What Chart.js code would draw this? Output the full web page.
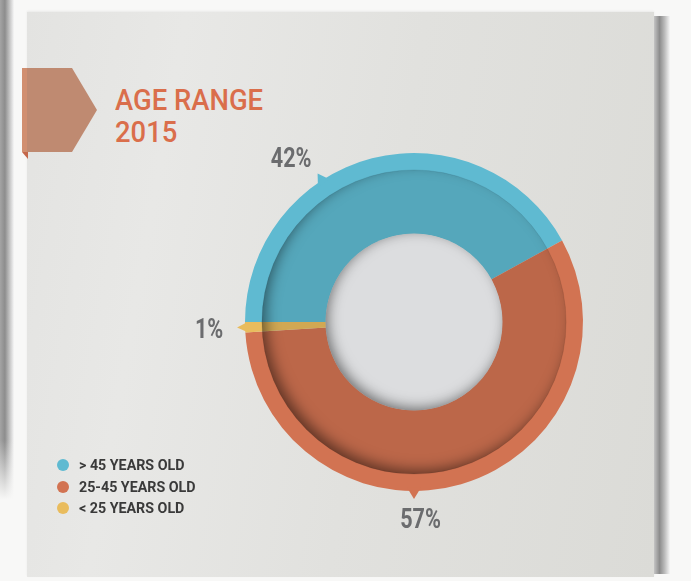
<!DOCTYPE html>
<html>
<head>
<meta charset="utf-8">
<script src="https://cdn.jsdelivr.net/npm/chart.js@4.4.1/dist/chart.umd.min.js"></script>
<style>
html,body{margin:0;padding:0;width:691px;height:581px;overflow:hidden;background:#f8f8f7;}
#strip{position:absolute;left:0;top:0;width:14px;height:500px;background:linear-gradient(to right,#a4a4a4 0,#8d8d8d 35%,#c6c6c6 70%,#f6f6f6 100%);}
#strip:after{content:"";position:absolute;left:0;bottom:0;width:14px;height:60px;background:linear-gradient(to bottom,rgba(248,248,247,0),#f8f8f7);}
#card{position:absolute;left:27px;top:12px;width:627px;height:565px;background:linear-gradient(100deg,#e3e3e1 0%,#e8e8e6 22%,#e1e1de 55%,#dbdbd7 100%);box-shadow:0 -1px 2px rgba(0,0,0,0.06);}
#edge{position:absolute;left:654px;top:16px;width:16px;height:558px;background:linear-gradient(to right,#c4c4c4,#8c8c8c 35%,#b9b9b9 65%,#f6f6f6);}
#ribbon{position:absolute;left:22px;top:68px;}
#c{position:absolute;left:0;top:0;}
#title{position:absolute;left:115px;top:84px;font-family:Roboto,"DejaVu Sans",sans-serif;font-weight:500;font-size:29.5px;line-height:32px;color:#da6e4b;transform:scaleX(0.93);transform-origin:0 0;white-space:nowrap;}
.lg{position:absolute;left:57px;height:20px;line-height:20px;white-space:nowrap;}
.lg i{position:absolute;left:0;top:4px;width:12px;height:12px;border-radius:50%;}
.lg span{position:absolute;left:22px;top:0;font-family:Roboto,"DejaVu Sans",sans-serif;font-weight:700;font-size:15px;color:#3a3a3a;transform:scaleX(0.95);transform-origin:0 0;}
</style>
</head>
<body>
<div id="strip"></div>
<div id="card"></div>
<div id="edge"></div>
<svg id="ribbon" width="80" height="94" viewBox="0 0 80 94">
  <polygon points="0,0 50,0 75,42 50,84 0,84" fill="#bf8a71"/>
  <rect x="0" y="0" width="5" height="84" fill="#d18f70"/>
  <polygon points="0,84 6,84 6,91" fill="#c4674a"/>
</svg>
<div id="title">AGE RANGE<br>2015</div>
<canvas id="c" width="691" height="581"></canvas>
<div id="legend"></div>
<script>
// ---- data ----
const categories = ['> 45 YEARS OLD', '25-45 YEARS OLD', '< 25 YEARS OLD'];
const shares = [42, 57, 1];
const percentLabels = ['42%', '57%', '1%'];
const segmentColors = ['#5fbad1', '#d27352', '#e9bc5d'];

// ---- legend (HTML, built from data) ----
const legend = document.getElementById('legend');
categories.forEach((c, i) => {
  const row = document.createElement('div');
  row.className = 'lg';
  row.style.top = (455 + i * 21.7) + 'px';
  const dot = document.createElement('i');
  dot.style.background = segmentColors[i];
  const t = document.createElement('span');
  t.textContent = c;
  row.appendChild(dot); row.appendChild(t);
  legend.appendChild(row);
});

const rad = d => d * Math.PI / 180;

const decor = {
  id: 'decor',
  afterDatasetsDraw(chart, args, opts) {
    const ctx = chart.ctx;
    const meta = chart.getDatasetMeta(0);
    const a0 = meta.data[0];
    const cx = a0.x, cy = a0.y, R = a0.outerRadius, r = a0.innerRadius;
    const ri = R * opts.innerDiskRatio;

    // pointers
    opts.markers.forEach(m => {
      const a = rad(m.pointerAngle - 90);
      const col = meta.data[m.index].options.backgroundColor;
      const hw = m.halfWidth / R;
      ctx.save();
      ctx.fillStyle = col;
      ctx.beginPath();
      ctx.moveTo(cx + (R + m.depth) * Math.cos(a), cy + (R + m.depth) * Math.sin(a));
      ctx.lineTo(cx + (R - 3) * Math.cos(a + hw), cy + (R - 3) * Math.sin(a + hw));
      ctx.lineTo(cx + (R - 3) * Math.cos(a - hw), cy + (R - 3) * Math.sin(a - hw));
      ctx.closePath();
      ctx.fill();
      ctx.restore();
    });

    // darker inner disk
    ctx.save();
    ctx.beginPath();
    ctx.arc(cx, cy, ri, 0, 2 * Math.PI);
    ctx.arc(cx, cy, r, 0, 2 * Math.PI, true);
    ctx.fillStyle = 'rgba(0,0,0,0.1)';
    ctx.fill();
    ctx.beginPath();
    ctx.arc(cx, cy, ri, 0, 2 * Math.PI);
    ctx.clip();
    ctx.beginPath();
    ctx.arc(cx, cy, ri + 80, 0, 2 * Math.PI);
    ctx.arc(cx, cy, ri + 1.5, 0, 2 * Math.PI, true);
    ctx.shadowColor = 'rgba(0,0,0,0.5)';
    ctx.shadowBlur = 14;
    ctx.shadowOffsetX = 5;
    ctx.shadowOffsetY = -5;
    ctx.fillStyle = '#000';
    ctx.fill();
    ctx.restore();
    ctx.save();
    ctx.beginPath();
    ctx.arc(cx, cy, ri, 0, 2 * Math.PI);
    ctx.strokeStyle = 'rgba(0,0,0,0.08)';
    ctx.lineWidth = 1;
    ctx.stroke();
    ctx.restore();

    // hole with inner shadow
    ctx.save();
    ctx.beginPath();
    ctx.arc(cx, cy, r + 0.5, 0, 2 * Math.PI);
    ctx.fillStyle = '#dcdddf';
    ctx.fill();
    ctx.clip();
    ctx.beginPath();
    ctx.arc(cx, cy, r + 80, 0, 2 * Math.PI);
    ctx.arc(cx, cy, r + 2, 0, 2 * Math.PI, true);
    ctx.shadowColor = 'rgba(0,0,0,0.55)';
    ctx.shadowBlur = 14;
    ctx.shadowOffsetX = 3;
    ctx.shadowOffsetY = -3;
    ctx.fillStyle = '#000';
    ctx.fill();
    ctx.restore();

    // percent labels
    opts.markers.forEach(m => {
      const a = rad(m.labelAngle - 90);
      const x = cx + m.labelRadius * Math.cos(a);
      const y = cy + m.labelRadius * Math.sin(a);
      ctx.save();
      ctx.fillStyle = '#6b6c6e';
      ctx.font = 'bold 27px Roboto, "DejaVu Sans", sans-serif';
      ctx.textAlign = 'center';
      ctx.textBaseline = 'alphabetic';
      ctx.translate(x, y);
      ctx.scale(0.8, 1);
      ctx.fillText(percentLabels[m.index], 0, 9.6);
      ctx.restore();
    });
  }
};

new Chart(document.getElementById('c'), {
  type: 'doughnut',
  data: {
    labels: categories,
    datasets: [{
      data: shares,
      backgroundColor: segmentColors,
      borderWidth: 0
    }]
  },
  options: {
    responsive: false,
    animation: false,
    events: [],
    rotation: -90,
    cutout: 88,
    layout: { padding: { left: 245, right: 108, top: 153, bottom: 90 } },
    plugins: {
      legend: { display: false },
      tooltip: { enabled: false },
      decor: {
        innerDiskRatio: 0.9,
        markers: [
          { index: 0, pointerAngle: -33, halfWidth: 7, depth: 8, labelAngle: -36.8, labelRadius: 205 },
          { index: 1, pointerAngle: 180, halfWidth: 7, depth: 8, labelAngle: 178.1, labelRadius: 197 },
          { index: 2, pointerAngle: 268.2, halfWidth: 5.5, depth: 8, labelAngle: 268.3, labelRadius: 205 }
        ]
      }
    }
  },
  plugins: [decor]
});
</script>
</body>
</html>
